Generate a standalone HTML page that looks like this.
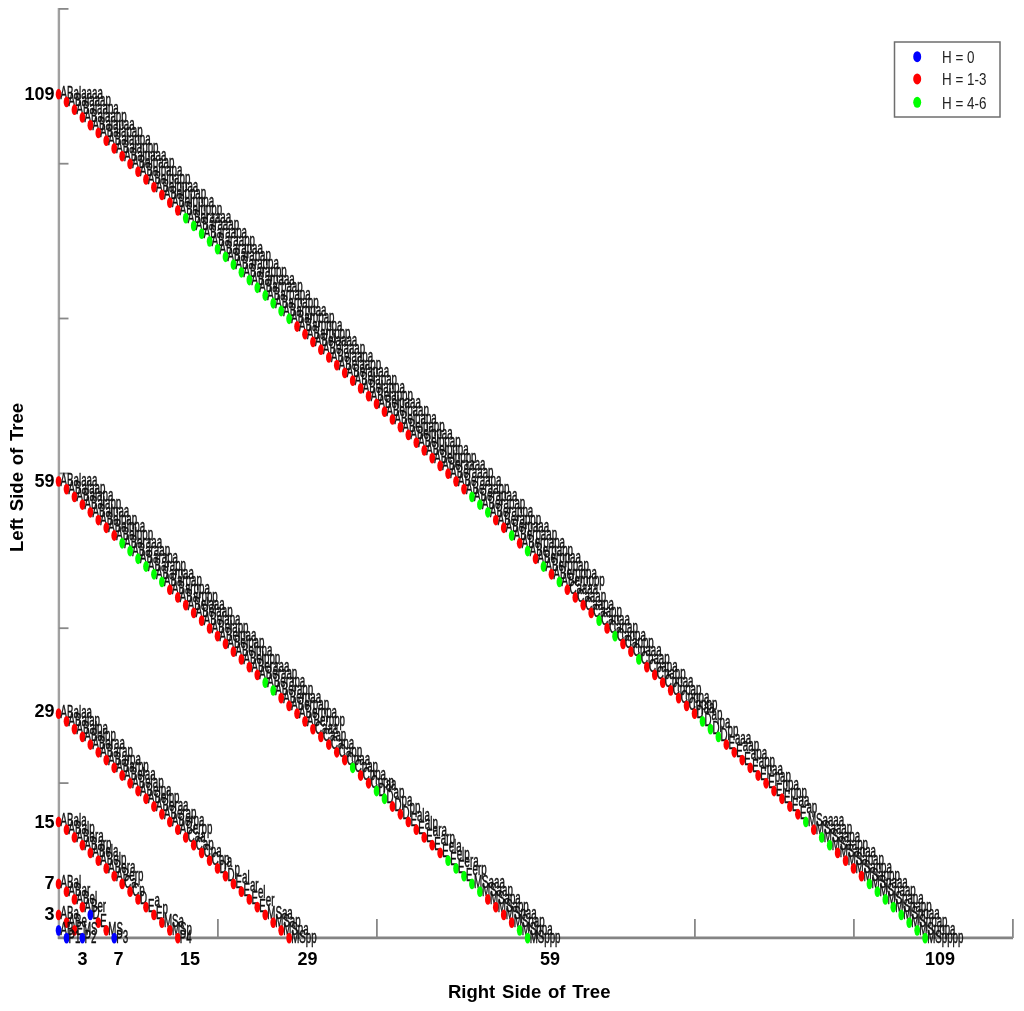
<!DOCTYPE html>
<html><head><meta charset="utf-8"><style>
html,body{margin:0;padding:0;background:#fff;width:1024px;height:1011px;overflow:hidden}
svg{display:block;filter:blur(0.5px)}
.h{stroke:#fff;stroke-width:0px;fill:#fff}
</style></head><body><svg width="1024" height="1011" viewBox="0 0 1024 1011"><line x1="58.9" y1="8" x2="58.9" y2="938.9" stroke="#a0a0a0" stroke-width="2.4"/><line x1="57.9" y1="937.9" x2="1013" y2="937.9" stroke="#848484" stroke-width="2.6"/><line x1="217.9" y1="937.9" x2="217.9" y2="919" stroke="#888" stroke-width="1.8"/><line x1="376.9" y1="937.9" x2="376.9" y2="919" stroke="#888" stroke-width="1.8"/><line x1="535.9" y1="937.9" x2="535.9" y2="919" stroke="#888" stroke-width="1.8"/><line x1="694.9" y1="937.9" x2="694.9" y2="919" stroke="#888" stroke-width="1.8"/><line x1="853.9" y1="937.9" x2="853.9" y2="919" stroke="#888" stroke-width="1.8"/><line x1="1012.9" y1="937.9" x2="1012.9" y2="919" stroke="#888" stroke-width="1.8"/><line x1="58.9" y1="783.1" x2="68.5" y2="783.1" stroke="#888" stroke-width="1.8"/><line x1="58.9" y1="628.2" x2="68.5" y2="628.2" stroke="#888" stroke-width="1.8"/><line x1="58.9" y1="473.4" x2="68.5" y2="473.4" stroke="#888" stroke-width="1.8"/><line x1="58.9" y1="318.5" x2="68.5" y2="318.5" stroke="#888" stroke-width="1.8"/><line x1="58.9" y1="163.7" x2="68.5" y2="163.7" stroke="#888" stroke-width="1.8"/><line x1="58.9" y1="8.9" x2="68.5" y2="8.9" stroke="#888" stroke-width="1.8"/><g font-family="Liberation Sans, sans-serif" font-size="17.5" fill="#111" stroke="#111" stroke-width="0.5"><ellipse cx="58.60" cy="94.22" rx="2.9" ry="5.4" fill="#f00" stroke="none"/><text transform="translate(60.60,98.72) scale(0.557,1)">ABalaaaa</text><ellipse cx="66.55" cy="101.96" rx="2.9" ry="5.4" fill="#f00" stroke="none"/><text transform="translate(68.55,106.46) scale(0.557,1)">ABalaaap</text><ellipse cx="74.50" cy="109.71" rx="2.9" ry="5.4" fill="#f00" stroke="none"/><text transform="translate(76.50,114.21) scale(0.557,1)">ABalaapa</text><ellipse cx="82.45" cy="117.45" rx="2.9" ry="5.4" fill="#f00" stroke="none"/><text transform="translate(84.45,121.95) scale(0.557,1)">ABalaapp</text><ellipse cx="90.40" cy="125.19" rx="2.9" ry="5.4" fill="#f00" stroke="none"/><text transform="translate(92.40,129.69) scale(0.557,1)">ABalapaa</text><ellipse cx="98.35" cy="132.93" rx="2.9" ry="5.4" fill="#f00" stroke="none"/><text transform="translate(100.35,137.43) scale(0.557,1)">ABalapap</text><ellipse cx="106.30" cy="140.67" rx="2.9" ry="5.4" fill="#f00" stroke="none"/><text transform="translate(108.30,145.17) scale(0.557,1)">ABalappa</text><ellipse cx="114.25" cy="148.42" rx="2.9" ry="5.4" fill="#f00" stroke="none"/><text transform="translate(116.25,152.92) scale(0.557,1)">ABalappp</text><ellipse cx="122.20" cy="156.16" rx="2.9" ry="5.4" fill="#f00" stroke="none"/><text transform="translate(124.20,160.66) scale(0.557,1)">ABalpaaa</text><ellipse cx="130.15" cy="163.90" rx="2.9" ry="5.4" fill="#f00" stroke="none"/><text transform="translate(132.15,168.40) scale(0.557,1)">ABalpaap</text><ellipse cx="138.10" cy="171.64" rx="2.9" ry="5.4" fill="#f00" stroke="none"/><text transform="translate(140.10,176.14) scale(0.557,1)">ABalpapa</text><ellipse cx="146.05" cy="179.38" rx="2.9" ry="5.4" fill="#f00" stroke="none"/><text transform="translate(148.05,183.88) scale(0.557,1)">ABalpapp</text><ellipse cx="154.00" cy="187.13" rx="2.9" ry="5.4" fill="#f00" stroke="none"/><text transform="translate(156.00,191.63) scale(0.557,1)">ABalppaa</text><ellipse cx="161.95" cy="194.87" rx="2.9" ry="5.4" fill="#f00" stroke="none"/><text transform="translate(163.95,199.37) scale(0.557,1)">ABalppap</text><ellipse cx="169.90" cy="202.61" rx="2.9" ry="5.4" fill="#f00" stroke="none"/><text transform="translate(171.90,207.11) scale(0.557,1)">ABalpppa</text><ellipse cx="177.85" cy="210.35" rx="2.9" ry="5.4" fill="#f00" stroke="none"/><text transform="translate(179.85,214.85) scale(0.557,1)">ABalpppp</text><ellipse cx="185.80" cy="218.09" rx="2.9" ry="5.4" fill="#0f0" stroke="none"/><text transform="translate(187.80,222.59) scale(0.557,1)">ABaraaaa</text><ellipse cx="193.75" cy="225.84" rx="2.9" ry="5.4" fill="#0f0" stroke="none"/><text transform="translate(195.75,230.34) scale(0.557,1)">ABaraaap</text><ellipse cx="201.70" cy="233.58" rx="2.9" ry="5.4" fill="#0f0" stroke="none"/><text transform="translate(203.70,238.08) scale(0.557,1)">ABaraapa</text><ellipse cx="209.65" cy="241.32" rx="2.9" ry="5.4" fill="#0f0" stroke="none"/><text transform="translate(211.65,245.82) scale(0.557,1)">ABaraapp</text><ellipse cx="217.60" cy="249.06" rx="2.9" ry="5.4" fill="#0f0" stroke="none"/><text transform="translate(219.60,253.56) scale(0.557,1)">ABarapaa</text><ellipse cx="225.55" cy="256.80" rx="2.9" ry="5.4" fill="#0f0" stroke="none"/><text transform="translate(227.55,261.30) scale(0.557,1)">ABarapap</text><ellipse cx="233.50" cy="264.55" rx="2.9" ry="5.4" fill="#0f0" stroke="none"/><text transform="translate(235.50,269.05) scale(0.557,1)">ABarappa</text><ellipse cx="241.45" cy="272.29" rx="2.9" ry="5.4" fill="#0f0" stroke="none"/><text transform="translate(243.45,276.79) scale(0.557,1)">ABarappp</text><ellipse cx="249.40" cy="280.03" rx="2.9" ry="5.4" fill="#0f0" stroke="none"/><text transform="translate(251.40,284.53) scale(0.557,1)">ABarpaaa</text><ellipse cx="257.35" cy="287.77" rx="2.9" ry="5.4" fill="#0f0" stroke="none"/><text transform="translate(259.35,292.27) scale(0.557,1)">ABarpaap</text><ellipse cx="265.30" cy="295.51" rx="2.9" ry="5.4" fill="#0f0" stroke="none"/><text transform="translate(267.30,300.01) scale(0.557,1)">ABarpapa</text><ellipse cx="273.25" cy="303.26" rx="2.9" ry="5.4" fill="#0f0" stroke="none"/><text transform="translate(275.25,307.76) scale(0.557,1)">ABarpapp</text><ellipse cx="281.20" cy="311.00" rx="2.9" ry="5.4" fill="#0f0" stroke="none"/><text transform="translate(283.20,315.50) scale(0.557,1)">ABarppaa</text><ellipse cx="289.15" cy="318.74" rx="2.9" ry="5.4" fill="#0f0" stroke="none"/><text transform="translate(291.15,323.24) scale(0.557,1)">ABarppap</text><ellipse cx="297.10" cy="326.48" rx="2.9" ry="5.4" fill="#f00" stroke="none"/><text transform="translate(299.10,330.98) scale(0.557,1)">ABarpppa</text><ellipse cx="305.05" cy="334.22" rx="2.9" ry="5.4" fill="#f00" stroke="none"/><text transform="translate(307.05,338.72) scale(0.557,1)">ABarpppp</text><ellipse cx="313.00" cy="341.97" rx="2.9" ry="5.4" fill="#f00" stroke="none"/><text transform="translate(315.00,346.47) scale(0.557,1)">ABelaaaa</text><ellipse cx="320.95" cy="349.71" rx="2.9" ry="5.4" fill="#f00" stroke="none"/><text transform="translate(322.95,354.21) scale(0.557,1)">ABelaaap</text><ellipse cx="328.90" cy="357.45" rx="2.9" ry="5.4" fill="#f00" stroke="none"/><text transform="translate(330.90,361.95) scale(0.557,1)">ABelaapa</text><ellipse cx="336.85" cy="365.19" rx="2.9" ry="5.4" fill="#f00" stroke="none"/><text transform="translate(338.85,369.69) scale(0.557,1)">ABelaapp</text><ellipse cx="344.80" cy="372.93" rx="2.9" ry="5.4" fill="#f00" stroke="none"/><text transform="translate(346.80,377.43) scale(0.557,1)">ABelapaa</text><ellipse cx="352.75" cy="380.68" rx="2.9" ry="5.4" fill="#f00" stroke="none"/><text transform="translate(354.75,385.18) scale(0.557,1)">ABelapap</text><ellipse cx="360.70" cy="388.42" rx="2.9" ry="5.4" fill="#f00" stroke="none"/><text transform="translate(362.70,392.92) scale(0.557,1)">ABelappa</text><ellipse cx="368.65" cy="396.16" rx="2.9" ry="5.4" fill="#f00" stroke="none"/><text transform="translate(370.65,400.66) scale(0.557,1)">ABelappp</text><ellipse cx="376.60" cy="403.90" rx="2.9" ry="5.4" fill="#f00" stroke="none"/><text transform="translate(378.60,408.40) scale(0.557,1)">ABelpaaa</text><ellipse cx="384.55" cy="411.64" rx="2.9" ry="5.4" fill="#f00" stroke="none"/><text transform="translate(386.55,416.14) scale(0.557,1)">ABelpaap</text><ellipse cx="392.50" cy="419.39" rx="2.9" ry="5.4" fill="#f00" stroke="none"/><text transform="translate(394.50,423.89) scale(0.557,1)">ABelpapa</text><ellipse cx="400.45" cy="427.13" rx="2.9" ry="5.4" fill="#f00" stroke="none"/><text transform="translate(402.45,431.63) scale(0.557,1)">ABelpapp</text><ellipse cx="408.40" cy="434.87" rx="2.9" ry="5.4" fill="#f00" stroke="none"/><text transform="translate(410.40,439.37) scale(0.557,1)">ABelppaa</text><ellipse cx="416.35" cy="442.61" rx="2.9" ry="5.4" fill="#f00" stroke="none"/><text transform="translate(418.35,447.11) scale(0.557,1)">ABelppap</text><ellipse cx="424.30" cy="450.35" rx="2.9" ry="5.4" fill="#f00" stroke="none"/><text transform="translate(426.30,454.85) scale(0.557,1)">ABelpppa</text><ellipse cx="432.25" cy="458.10" rx="2.9" ry="5.4" fill="#f00" stroke="none"/><text transform="translate(434.25,462.60) scale(0.557,1)">ABelpppp</text><ellipse cx="440.20" cy="465.84" rx="2.9" ry="5.4" fill="#f00" stroke="none"/><text transform="translate(442.20,470.34) scale(0.557,1)">ABeraaaa</text><ellipse cx="448.15" cy="473.58" rx="2.9" ry="5.4" fill="#f00" stroke="none"/><text transform="translate(450.15,478.08) scale(0.557,1)">ABeraaap</text><ellipse cx="456.10" cy="481.32" rx="2.9" ry="5.4" fill="#f00" stroke="none"/><text transform="translate(458.10,485.82) scale(0.557,1)">ABeraapa</text><ellipse cx="464.05" cy="489.06" rx="2.9" ry="5.4" fill="#f00" stroke="none"/><text transform="translate(466.05,493.56) scale(0.557,1)">ABeraapp</text><ellipse cx="472.00" cy="496.81" rx="2.9" ry="5.4" fill="#0f0" stroke="none"/><text transform="translate(474.00,501.31) scale(0.557,1)">ABerapaa</text><ellipse cx="479.95" cy="504.55" rx="2.9" ry="5.4" fill="#0f0" stroke="none"/><text transform="translate(481.95,509.05) scale(0.557,1)">ABerapap</text><ellipse cx="487.90" cy="512.29" rx="2.9" ry="5.4" fill="#0f0" stroke="none"/><text transform="translate(489.90,516.79) scale(0.557,1)">ABerappa</text><ellipse cx="495.85" cy="520.03" rx="2.9" ry="5.4" fill="#f00" stroke="none"/><text transform="translate(497.85,524.53) scale(0.557,1)">ABerappp</text><ellipse cx="503.80" cy="527.77" rx="2.9" ry="5.4" fill="#f00" stroke="none"/><text transform="translate(505.80,532.27) scale(0.557,1)">ABerpaaa</text><ellipse cx="511.75" cy="535.52" rx="2.9" ry="5.4" fill="#0f0" stroke="none"/><text transform="translate(513.75,540.02) scale(0.557,1)">ABerpaap</text><ellipse cx="519.70" cy="543.26" rx="2.9" ry="5.4" fill="#f00" stroke="none"/><text transform="translate(521.70,547.76) scale(0.557,1)">ABerpapa</text><ellipse cx="527.65" cy="551.00" rx="2.9" ry="5.4" fill="#0f0" stroke="none"/><text transform="translate(529.65,555.50) scale(0.557,1)">ABerpapp</text><ellipse cx="535.60" cy="558.74" rx="2.9" ry="5.4" fill="#f00" stroke="none"/><text transform="translate(537.60,563.24) scale(0.557,1)">ABerppaa</text><ellipse cx="543.55" cy="566.48" rx="2.9" ry="5.4" fill="#0f0" stroke="none"/><text transform="translate(545.55,570.98) scale(0.557,1)">ABerppap</text><ellipse cx="551.50" cy="574.23" rx="2.9" ry="5.4" fill="#f00" stroke="none"/><text transform="translate(553.50,578.73) scale(0.557,1)">ABerpppa</text><ellipse cx="559.45" cy="581.97" rx="2.9" ry="5.4" fill="#0f0" stroke="none"/><text transform="translate(561.45,586.47) scale(0.557,1)">ABerpppp</text><ellipse cx="567.40" cy="589.71" rx="2.9" ry="5.4" fill="#f00" stroke="none"/><text transform="translate(569.40,594.21) scale(0.557,1)">Caaaa</text><ellipse cx="575.35" cy="597.45" rx="2.9" ry="5.4" fill="#f00" stroke="none"/><text transform="translate(577.35,601.95) scale(0.557,1)">Caaap</text><ellipse cx="583.30" cy="605.19" rx="2.9" ry="5.4" fill="#f00" stroke="none"/><text transform="translate(585.30,609.69) scale(0.557,1)">Caapa</text><ellipse cx="591.25" cy="612.94" rx="2.9" ry="5.4" fill="#f00" stroke="none"/><text transform="translate(593.25,617.44) scale(0.557,1)">Caapp</text><ellipse cx="599.20" cy="620.68" rx="2.9" ry="5.4" fill="#0f0" stroke="none"/><text transform="translate(601.20,625.18) scale(0.557,1)">Capaa</text><ellipse cx="607.15" cy="628.42" rx="2.9" ry="5.4" fill="#f00" stroke="none"/><text transform="translate(609.15,632.92) scale(0.557,1)">Capap</text><ellipse cx="615.10" cy="636.16" rx="2.9" ry="5.4" fill="#0f0" stroke="none"/><text transform="translate(617.10,640.66) scale(0.557,1)">Cappa</text><ellipse cx="623.05" cy="643.90" rx="2.9" ry="5.4" fill="#f00" stroke="none"/><text transform="translate(625.05,648.40) scale(0.557,1)">Cappp</text><ellipse cx="631.00" cy="651.65" rx="2.9" ry="5.4" fill="#f00" stroke="none"/><text transform="translate(633.00,656.15) scale(0.557,1)">Cpaaa</text><ellipse cx="638.95" cy="659.39" rx="2.9" ry="5.4" fill="#0f0" stroke="none"/><text transform="translate(640.95,663.89) scale(0.557,1)">Cpaap</text><ellipse cx="646.90" cy="667.13" rx="2.9" ry="5.4" fill="#f00" stroke="none"/><text transform="translate(648.90,671.63) scale(0.557,1)">Cpapa</text><ellipse cx="654.85" cy="674.87" rx="2.9" ry="5.4" fill="#f00" stroke="none"/><text transform="translate(656.85,679.37) scale(0.557,1)">Cpapp</text><ellipse cx="662.80" cy="682.61" rx="2.9" ry="5.4" fill="#f00" stroke="none"/><text transform="translate(664.80,687.11) scale(0.557,1)">Cppaa</text><ellipse cx="670.75" cy="690.36" rx="2.9" ry="5.4" fill="#f00" stroke="none"/><text transform="translate(672.75,694.86) scale(0.557,1)">Cppap</text><ellipse cx="678.70" cy="698.10" rx="2.9" ry="5.4" fill="#f00" stroke="none"/><text transform="translate(680.70,702.60) scale(0.557,1)">Cpppa</text><ellipse cx="686.65" cy="705.84" rx="2.9" ry="5.4" fill="#f00" stroke="none"/><text transform="translate(688.65,710.34) scale(0.557,1)">Cpppp</text><ellipse cx="694.60" cy="713.58" rx="2.9" ry="5.4" fill="#f00" stroke="none"/><text transform="translate(696.60,718.08) scale(0.557,1)">D<tspan dy="-5.5">aa</tspan></text><ellipse cx="702.55" cy="721.32" rx="2.9" ry="5.4" fill="#0f0" stroke="none"/><text transform="translate(704.55,725.82) scale(0.557,1)">D<tspan dy="-5.5">ap</tspan></text><ellipse cx="710.50" cy="729.07" rx="2.9" ry="5.4" fill="#0f0" stroke="none"/><text transform="translate(712.50,733.57) scale(0.557,1)">D<tspan dy="-5.5">pa</tspan></text><ellipse cx="718.45" cy="736.81" rx="2.9" ry="5.4" fill="#0f0" stroke="none"/><text transform="translate(720.45,741.31) scale(0.557,1)">D<tspan dy="-5.5">pp</tspan></text><ellipse cx="726.40" cy="744.55" rx="2.9" ry="5.4" fill="#f00" stroke="none"/><text transform="translate(728.40,749.05) scale(0.557,1)">E<tspan dy="-5.5">aaa</tspan></text><ellipse cx="734.35" cy="752.29" rx="2.9" ry="5.4" fill="#f00" stroke="none"/><text transform="translate(736.35,756.79) scale(0.557,1)">E<tspan dy="-5.5">aap</tspan></text><ellipse cx="742.30" cy="760.03" rx="2.9" ry="5.4" fill="#f00" stroke="none"/><text transform="translate(744.30,764.53) scale(0.557,1)">E<tspan dy="-5.5">apa</tspan></text><ellipse cx="750.25" cy="767.78" rx="2.9" ry="5.4" fill="#f00" stroke="none"/><text transform="translate(752.25,772.28) scale(0.557,1)">E<tspan dy="-5.5">app</tspan></text><ellipse cx="758.20" cy="775.52" rx="2.9" ry="5.4" fill="#f00" stroke="none"/><text transform="translate(760.20,780.02) scale(0.557,1)">E<tspan dy="-5.5">paa</tspan></text><ellipse cx="766.15" cy="783.26" rx="2.9" ry="5.4" fill="#f00" stroke="none"/><text transform="translate(768.15,787.76) scale(0.557,1)">E<tspan dy="-5.5">pap</tspan></text><ellipse cx="774.10" cy="791.00" rx="2.9" ry="5.4" fill="#f00" stroke="none"/><text transform="translate(776.10,795.50) scale(0.557,1)">E<tspan dy="-5.5">ppa</tspan></text><ellipse cx="782.05" cy="798.74" rx="2.9" ry="5.4" fill="#f00" stroke="none"/><text transform="translate(784.05,803.24) scale(0.557,1)">E<tspan dy="-5.5">ppp</tspan></text><ellipse cx="790.00" cy="806.49" rx="2.9" ry="5.4" fill="#f00" stroke="none"/><text transform="translate(792.00,810.99) scale(0.557,1)">E<tspan dy="-5.5">aa</tspan></text><ellipse cx="797.95" cy="814.23" rx="2.9" ry="5.4" fill="#f00" stroke="none"/><text transform="translate(799.95,818.73) scale(0.557,1)">E<tspan dy="-5.5">ap</tspan></text><ellipse cx="805.90" cy="821.97" rx="2.9" ry="5.4" fill="#0f0" stroke="none"/><text transform="translate(807.90,826.47) scale(0.557,1)">MSaaaa</text><ellipse cx="813.85" cy="829.71" rx="2.9" ry="5.4" fill="#f00" stroke="none"/><text transform="translate(815.85,834.21) scale(0.557,1)">MSaaap</text><ellipse cx="821.80" cy="837.45" rx="2.9" ry="5.4" fill="#0f0" stroke="none"/><text transform="translate(823.80,841.95) scale(0.557,1)">MSaapa</text><ellipse cx="829.75" cy="845.20" rx="2.9" ry="5.4" fill="#0f0" stroke="none"/><text transform="translate(831.75,849.70) scale(0.557,1)">MSaapp</text><ellipse cx="837.70" cy="852.94" rx="2.9" ry="5.4" fill="#f00" stroke="none"/><text transform="translate(839.70,857.44) scale(0.557,1)">MSapaa</text><ellipse cx="845.65" cy="860.68" rx="2.9" ry="5.4" fill="#f00" stroke="none"/><text transform="translate(847.65,865.18) scale(0.557,1)">MSapap</text><ellipse cx="853.60" cy="868.42" rx="2.9" ry="5.4" fill="#f00" stroke="none"/><text transform="translate(855.60,872.92) scale(0.557,1)">MSappa</text><ellipse cx="861.55" cy="876.16" rx="2.9" ry="5.4" fill="#f00" stroke="none"/><text transform="translate(863.55,880.66) scale(0.557,1)">MSappp</text><ellipse cx="869.50" cy="883.91" rx="2.9" ry="5.4" fill="#0f0" stroke="none"/><text transform="translate(871.50,888.41) scale(0.557,1)">MSpaaa</text><ellipse cx="877.45" cy="891.65" rx="2.9" ry="5.4" fill="#0f0" stroke="none"/><text transform="translate(879.45,896.15) scale(0.557,1)">MSpaap</text><ellipse cx="885.40" cy="899.39" rx="2.9" ry="5.4" fill="#0f0" stroke="none"/><text transform="translate(887.40,903.89) scale(0.557,1)">MSpapa</text><ellipse cx="893.35" cy="907.13" rx="2.9" ry="5.4" fill="#0f0" stroke="none"/><text transform="translate(895.35,911.63) scale(0.557,1)">MSpapp</text><ellipse cx="901.30" cy="914.87" rx="2.9" ry="5.4" fill="#0f0" stroke="none"/><text transform="translate(903.30,919.37) scale(0.557,1)">MSppaa</text><ellipse cx="909.25" cy="922.62" rx="2.9" ry="5.4" fill="#0f0" stroke="none"/><text transform="translate(911.25,927.12) scale(0.557,1)">MSppap</text><ellipse cx="917.20" cy="930.36" rx="2.9" ry="5.4" fill="#0f0" stroke="none"/><text transform="translate(919.20,934.86) scale(0.557,1)">MSpppa</text><ellipse cx="925.15" cy="938.10" rx="2.9" ry="5.4" fill="#0f0" stroke="none"/><text transform="translate(927.15,942.60) scale(0.557,1)">MSpppp</text><ellipse cx="58.60" cy="481.32" rx="2.9" ry="5.4" fill="#f00" stroke="none"/><text transform="translate(60.60,485.82) scale(0.557,1)">ABalaaa</text><ellipse cx="66.55" cy="489.06" rx="2.9" ry="5.4" fill="#f00" stroke="none"/><text transform="translate(68.55,493.56) scale(0.557,1)">ABalaap</text><ellipse cx="74.50" cy="496.81" rx="2.9" ry="5.4" fill="#f00" stroke="none"/><text transform="translate(76.50,501.31) scale(0.557,1)">ABalapa</text><ellipse cx="82.45" cy="504.55" rx="2.9" ry="5.4" fill="#f00" stroke="none"/><text transform="translate(84.45,509.05) scale(0.557,1)">ABalapp</text><ellipse cx="90.40" cy="512.29" rx="2.9" ry="5.4" fill="#f00" stroke="none"/><text transform="translate(92.40,516.79) scale(0.557,1)">ABalpaa</text><ellipse cx="98.35" cy="520.03" rx="2.9" ry="5.4" fill="#f00" stroke="none"/><text transform="translate(100.35,524.53) scale(0.557,1)">ABalpap</text><ellipse cx="106.30" cy="527.77" rx="2.9" ry="5.4" fill="#f00" stroke="none"/><text transform="translate(108.30,532.27) scale(0.557,1)">ABalppa</text><ellipse cx="114.25" cy="535.52" rx="2.9" ry="5.4" fill="#f00" stroke="none"/><text transform="translate(116.25,540.02) scale(0.557,1)">ABalppp</text><ellipse cx="122.20" cy="543.26" rx="2.9" ry="5.4" fill="#0f0" stroke="none"/><text transform="translate(124.20,547.76) scale(0.557,1)">ABaraaa</text><ellipse cx="130.15" cy="551.00" rx="2.9" ry="5.4" fill="#0f0" stroke="none"/><text transform="translate(132.15,555.50) scale(0.557,1)">ABaraap</text><ellipse cx="138.10" cy="558.74" rx="2.9" ry="5.4" fill="#0f0" stroke="none"/><text transform="translate(140.10,563.24) scale(0.557,1)">ABarapa</text><ellipse cx="146.05" cy="566.48" rx="2.9" ry="5.4" fill="#0f0" stroke="none"/><text transform="translate(148.05,570.98) scale(0.557,1)">ABarapp</text><ellipse cx="154.00" cy="574.23" rx="2.9" ry="5.4" fill="#0f0" stroke="none"/><text transform="translate(156.00,578.73) scale(0.557,1)">ABarpaa</text><ellipse cx="161.95" cy="581.97" rx="2.9" ry="5.4" fill="#0f0" stroke="none"/><text transform="translate(163.95,586.47) scale(0.557,1)">ABarpap</text><ellipse cx="169.90" cy="589.71" rx="2.9" ry="5.4" fill="#f00" stroke="none"/><text transform="translate(171.90,594.21) scale(0.557,1)">ABarppa</text><ellipse cx="177.85" cy="597.45" rx="2.9" ry="5.4" fill="#f00" stroke="none"/><text transform="translate(179.85,601.95) scale(0.557,1)">ABarppp</text><ellipse cx="185.80" cy="605.19" rx="2.9" ry="5.4" fill="#f00" stroke="none"/><text transform="translate(187.80,609.69) scale(0.557,1)">ABelaaa</text><ellipse cx="193.75" cy="612.94" rx="2.9" ry="5.4" fill="#f00" stroke="none"/><text transform="translate(195.75,617.44) scale(0.557,1)">ABelaap</text><ellipse cx="201.70" cy="620.68" rx="2.9" ry="5.4" fill="#f00" stroke="none"/><text transform="translate(203.70,625.18) scale(0.557,1)">ABelapa</text><ellipse cx="209.65" cy="628.42" rx="2.9" ry="5.4" fill="#f00" stroke="none"/><text transform="translate(211.65,632.92) scale(0.557,1)">ABelapp</text><ellipse cx="217.60" cy="636.16" rx="2.9" ry="5.4" fill="#f00" stroke="none"/><text transform="translate(219.60,640.66) scale(0.557,1)">ABelpaa</text><ellipse cx="225.55" cy="643.90" rx="2.9" ry="5.4" fill="#f00" stroke="none"/><text transform="translate(227.55,648.40) scale(0.557,1)">ABelpap</text><ellipse cx="233.50" cy="651.65" rx="2.9" ry="5.4" fill="#f00" stroke="none"/><text transform="translate(235.50,656.15) scale(0.557,1)">ABelppa</text><ellipse cx="241.45" cy="659.39" rx="2.9" ry="5.4" fill="#f00" stroke="none"/><text transform="translate(243.45,663.89) scale(0.557,1)">ABelppp</text><ellipse cx="249.40" cy="667.13" rx="2.9" ry="5.4" fill="#f00" stroke="none"/><text transform="translate(251.40,671.63) scale(0.557,1)">ABeraaa</text><ellipse cx="257.35" cy="674.87" rx="2.9" ry="5.4" fill="#f00" stroke="none"/><text transform="translate(259.35,679.37) scale(0.557,1)">ABeraap</text><ellipse cx="265.30" cy="682.61" rx="2.9" ry="5.4" fill="#0f0" stroke="none"/><text transform="translate(267.30,687.11) scale(0.557,1)">ABerapa</text><ellipse cx="273.25" cy="690.36" rx="2.9" ry="5.4" fill="#0f0" stroke="none"/><text transform="translate(275.25,694.86) scale(0.557,1)">ABerapp</text><ellipse cx="281.20" cy="698.10" rx="2.9" ry="5.4" fill="#f00" stroke="none"/><text transform="translate(283.20,702.60) scale(0.557,1)">ABerpaa</text><ellipse cx="289.15" cy="705.84" rx="2.9" ry="5.4" fill="#f00" stroke="none"/><text transform="translate(291.15,710.34) scale(0.557,1)">ABerpap</text><ellipse cx="297.10" cy="713.58" rx="2.9" ry="5.4" fill="#f00" stroke="none"/><text transform="translate(299.10,718.08) scale(0.557,1)">ABerppa</text><ellipse cx="305.05" cy="721.32" rx="2.9" ry="5.4" fill="#f00" stroke="none"/><text transform="translate(307.05,725.82) scale(0.557,1)">ABerppp</text><ellipse cx="313.00" cy="729.07" rx="2.9" ry="5.4" fill="#f00" stroke="none"/><text transform="translate(315.00,733.57) scale(0.557,1)">Caaa</text><ellipse cx="320.95" cy="736.81" rx="2.9" ry="5.4" fill="#f00" stroke="none"/><text transform="translate(322.95,741.31) scale(0.557,1)">Caap</text><ellipse cx="328.90" cy="744.55" rx="2.9" ry="5.4" fill="#f00" stroke="none"/><text transform="translate(330.90,749.05) scale(0.557,1)">Capa</text><ellipse cx="336.85" cy="752.29" rx="2.9" ry="5.4" fill="#f00" stroke="none"/><text transform="translate(338.85,756.79) scale(0.557,1)">Capp</text><ellipse cx="344.80" cy="760.03" rx="2.9" ry="5.4" fill="#f00" stroke="none"/><text transform="translate(346.80,764.53) scale(0.557,1)">Cpaa</text><ellipse cx="352.75" cy="767.78" rx="2.9" ry="5.4" fill="#0f0" stroke="none"/><text transform="translate(354.75,772.28) scale(0.557,1)">Cpap</text><ellipse cx="360.70" cy="775.52" rx="2.9" ry="5.4" fill="#f00" stroke="none"/><text transform="translate(362.70,780.02) scale(0.557,1)">Cppa</text><ellipse cx="368.65" cy="783.26" rx="2.9" ry="5.4" fill="#f00" stroke="none"/><text transform="translate(370.65,787.76) scale(0.557,1)">Cppp</text><ellipse cx="376.60" cy="791.00" rx="2.9" ry="5.4" fill="#0f0" stroke="none"/><text transform="translate(378.60,795.50) scale(0.557,1)">D<tspan dy="-5.5">aa</tspan></text><ellipse cx="384.55" cy="798.74" rx="2.9" ry="5.4" fill="#0f0" stroke="none"/><text transform="translate(386.55,803.24) scale(0.557,1)">D<tspan dy="-5.5">ap</tspan></text><ellipse cx="392.50" cy="806.49" rx="2.9" ry="5.4" fill="#f00" stroke="none"/><text transform="translate(394.50,810.99) scale(0.557,1)">D<tspan dy="-5.5">pa</tspan></text><ellipse cx="400.45" cy="814.23" rx="2.9" ry="5.4" fill="#f00" stroke="none"/><text transform="translate(402.45,818.73) scale(0.557,1)">D<tspan dy="-5.5">pp</tspan></text><ellipse cx="408.40" cy="821.97" rx="2.9" ry="5.4" fill="#f00" stroke="none"/><text transform="translate(410.40,826.47) scale(0.557,1)">E<tspan dy="-5.5">ala</tspan></text><ellipse cx="416.35" cy="829.71" rx="2.9" ry="5.4" fill="#f00" stroke="none"/><text transform="translate(418.35,834.21) scale(0.557,1)">E<tspan dy="-5.5">alp</tspan></text><ellipse cx="424.30" cy="837.45" rx="2.9" ry="5.4" fill="#f00" stroke="none"/><text transform="translate(426.30,841.95) scale(0.557,1)">E<tspan dy="-5.5">ara</tspan></text><ellipse cx="432.25" cy="845.20" rx="2.9" ry="5.4" fill="#f00" stroke="none"/><text transform="translate(434.25,849.70) scale(0.557,1)">E<tspan dy="-5.5">arp</tspan></text><ellipse cx="440.20" cy="852.94" rx="2.9" ry="5.4" fill="#f00" stroke="none"/><text transform="translate(442.20,857.44) scale(0.557,1)">E<tspan dy="-5.5">ela</tspan></text><ellipse cx="448.15" cy="860.68" rx="2.9" ry="5.4" fill="#0f0" stroke="none"/><text transform="translate(450.15,865.18) scale(0.557,1)">E<tspan dy="-5.5">elp</tspan></text><ellipse cx="456.10" cy="868.42" rx="2.9" ry="5.4" fill="#0f0" stroke="none"/><text transform="translate(458.10,872.92) scale(0.557,1)">E<tspan dy="-5.5">era</tspan></text><ellipse cx="464.05" cy="876.16" rx="2.9" ry="5.4" fill="#0f0" stroke="none"/><text transform="translate(466.05,880.66) scale(0.557,1)">E<tspan dy="-5.5">erp</tspan></text><ellipse cx="472.00" cy="883.91" rx="2.9" ry="5.4" fill="#0f0" stroke="none"/><text transform="translate(474.00,888.41) scale(0.557,1)">MSaaa</text><ellipse cx="479.95" cy="891.65" rx="2.9" ry="5.4" fill="#0f0" stroke="none"/><text transform="translate(481.95,896.15) scale(0.557,1)">MSaap</text><ellipse cx="487.90" cy="899.39" rx="2.9" ry="5.4" fill="#f00" stroke="none"/><text transform="translate(489.90,903.89) scale(0.557,1)">MSapa</text><ellipse cx="495.85" cy="907.13" rx="2.9" ry="5.4" fill="#f00" stroke="none"/><text transform="translate(497.85,911.63) scale(0.557,1)">MSapp</text><ellipse cx="503.80" cy="914.87" rx="2.9" ry="5.4" fill="#f00" stroke="none"/><text transform="translate(505.80,919.37) scale(0.557,1)">MSpaa</text><ellipse cx="511.75" cy="922.62" rx="2.9" ry="5.4" fill="#f00" stroke="none"/><text transform="translate(513.75,927.12) scale(0.557,1)">MSpap</text><ellipse cx="519.70" cy="930.36" rx="2.9" ry="5.4" fill="#0f0" stroke="none"/><text transform="translate(521.70,934.86) scale(0.557,1)">MSppa</text><ellipse cx="527.65" cy="938.10" rx="2.9" ry="5.4" fill="#0f0" stroke="none"/><text transform="translate(529.65,942.60) scale(0.557,1)">MSppp</text><ellipse cx="58.60" cy="713.58" rx="2.9" ry="5.4" fill="#f00" stroke="none"/><text transform="translate(60.60,718.08) scale(0.557,1)">ABalaa</text><ellipse cx="66.55" cy="721.32" rx="2.9" ry="5.4" fill="#f00" stroke="none"/><text transform="translate(68.55,725.82) scale(0.557,1)">ABalap</text><ellipse cx="74.50" cy="729.07" rx="2.9" ry="5.4" fill="#f00" stroke="none"/><text transform="translate(76.50,733.57) scale(0.557,1)">ABalpa</text><ellipse cx="82.45" cy="736.81" rx="2.9" ry="5.4" fill="#f00" stroke="none"/><text transform="translate(84.45,741.31) scale(0.557,1)">ABalpp</text><ellipse cx="90.40" cy="744.55" rx="2.9" ry="5.4" fill="#f00" stroke="none"/><text transform="translate(92.40,749.05) scale(0.557,1)">ABaraa</text><ellipse cx="98.35" cy="752.29" rx="2.9" ry="5.4" fill="#f00" stroke="none"/><text transform="translate(100.35,756.79) scale(0.557,1)">ABarap</text><ellipse cx="106.30" cy="760.03" rx="2.9" ry="5.4" fill="#f00" stroke="none"/><text transform="translate(108.30,764.53) scale(0.557,1)">ABarpa</text><ellipse cx="114.25" cy="767.78" rx="2.9" ry="5.4" fill="#f00" stroke="none"/><text transform="translate(116.25,772.28) scale(0.557,1)">ABarpp</text><ellipse cx="122.20" cy="775.52" rx="2.9" ry="5.4" fill="#f00" stroke="none"/><text transform="translate(124.20,780.02) scale(0.557,1)">ABelaa</text><ellipse cx="130.15" cy="783.26" rx="2.9" ry="5.4" fill="#f00" stroke="none"/><text transform="translate(132.15,787.76) scale(0.557,1)">ABelap</text><ellipse cx="138.10" cy="791.00" rx="2.9" ry="5.4" fill="#f00" stroke="none"/><text transform="translate(140.10,795.50) scale(0.557,1)">ABelpa</text><ellipse cx="146.05" cy="798.74" rx="2.9" ry="5.4" fill="#f00" stroke="none"/><text transform="translate(148.05,803.24) scale(0.557,1)">ABelpp</text><ellipse cx="154.00" cy="806.49" rx="2.9" ry="5.4" fill="#f00" stroke="none"/><text transform="translate(156.00,810.99) scale(0.557,1)">ABeraa</text><ellipse cx="161.95" cy="814.23" rx="2.9" ry="5.4" fill="#f00" stroke="none"/><text transform="translate(163.95,818.73) scale(0.557,1)">ABerap</text><ellipse cx="169.90" cy="821.97" rx="2.9" ry="5.4" fill="#f00" stroke="none"/><text transform="translate(171.90,826.47) scale(0.557,1)">ABerpa</text><ellipse cx="177.85" cy="829.71" rx="2.9" ry="5.4" fill="#f00" stroke="none"/><text transform="translate(179.85,834.21) scale(0.557,1)">ABerpp</text><ellipse cx="185.80" cy="837.45" rx="2.9" ry="5.4" fill="#f00" stroke="none"/><text transform="translate(187.80,841.95) scale(0.557,1)">Caa</text><ellipse cx="193.75" cy="845.20" rx="2.9" ry="5.4" fill="#f00" stroke="none"/><text transform="translate(195.75,849.70) scale(0.557,1)">Cap</text><ellipse cx="201.70" cy="852.94" rx="2.9" ry="5.4" fill="#f00" stroke="none"/><text transform="translate(203.70,857.44) scale(0.557,1)">Cpa</text><ellipse cx="209.65" cy="860.68" rx="2.9" ry="5.4" fill="#f00" stroke="none"/><text transform="translate(211.65,865.18) scale(0.557,1)">Cpp</text><ellipse cx="217.60" cy="868.42" rx="2.9" ry="5.4" fill="#f00" stroke="none"/><text transform="translate(219.60,872.92) scale(0.557,1)">D<tspan dy="-5.5">a</tspan></text><ellipse cx="225.55" cy="876.16" rx="2.9" ry="5.4" fill="#f00" stroke="none"/><text transform="translate(227.55,880.66) scale(0.557,1)">D<tspan dy="-5.5">p</tspan></text><ellipse cx="233.50" cy="883.91" rx="2.9" ry="5.4" fill="#f00" stroke="none"/><text transform="translate(235.50,888.41) scale(0.557,1)">E<tspan dy="-5.5">al</tspan></text><ellipse cx="241.45" cy="891.65" rx="2.9" ry="5.4" fill="#f00" stroke="none"/><text transform="translate(243.45,896.15) scale(0.557,1)">E<tspan dy="-5.5">ar</tspan></text><ellipse cx="249.40" cy="899.39" rx="2.9" ry="5.4" fill="#f00" stroke="none"/><text transform="translate(251.40,903.89) scale(0.557,1)">E<tspan dy="-5.5">el</tspan></text><ellipse cx="257.35" cy="907.13" rx="2.9" ry="5.4" fill="#f00" stroke="none"/><text transform="translate(259.35,911.63) scale(0.557,1)">E<tspan dy="-5.5">er</tspan></text><ellipse cx="265.30" cy="914.87" rx="2.9" ry="5.4" fill="#f00" stroke="none"/><text transform="translate(267.30,919.37) scale(0.557,1)">MSaa</text><ellipse cx="273.25" cy="922.62" rx="2.9" ry="5.4" fill="#f00" stroke="none"/><text transform="translate(275.25,927.12) scale(0.557,1)">MSap</text><ellipse cx="281.20" cy="930.36" rx="2.9" ry="5.4" fill="#f00" stroke="none"/><text transform="translate(283.20,934.86) scale(0.557,1)">MSpa</text><ellipse cx="289.15" cy="938.10" rx="2.9" ry="5.4" fill="#f00" stroke="none"/><text transform="translate(291.15,942.60) scale(0.557,1)">MSpp</text><ellipse cx="58.60" cy="821.97" rx="2.9" ry="5.4" fill="#f00" stroke="none"/><text transform="translate(60.60,826.47) scale(0.557,1)">ABala</text><ellipse cx="66.55" cy="829.71" rx="2.9" ry="5.4" fill="#f00" stroke="none"/><text transform="translate(68.55,834.21) scale(0.557,1)">ABalp</text><ellipse cx="74.50" cy="837.45" rx="2.9" ry="5.4" fill="#f00" stroke="none"/><text transform="translate(76.50,841.95) scale(0.557,1)">ABara</text><ellipse cx="82.45" cy="845.20" rx="2.9" ry="5.4" fill="#f00" stroke="none"/><text transform="translate(84.45,849.70) scale(0.557,1)">ABarp</text><ellipse cx="90.40" cy="852.94" rx="2.9" ry="5.4" fill="#f00" stroke="none"/><text transform="translate(92.40,857.44) scale(0.557,1)">ABela</text><ellipse cx="98.35" cy="860.68" rx="2.9" ry="5.4" fill="#f00" stroke="none"/><text transform="translate(100.35,865.18) scale(0.557,1)">ABelp</text><ellipse cx="106.30" cy="868.42" rx="2.9" ry="5.4" fill="#f00" stroke="none"/><text transform="translate(108.30,872.92) scale(0.557,1)">ABera</text><ellipse cx="114.25" cy="876.16" rx="2.9" ry="5.4" fill="#f00" stroke="none"/><text transform="translate(116.25,880.66) scale(0.557,1)">ABerp</text><ellipse cx="122.20" cy="883.91" rx="2.9" ry="5.4" fill="#f00" stroke="none"/><text transform="translate(124.20,888.41) scale(0.557,1)">Ca</text><ellipse cx="130.15" cy="891.65" rx="2.9" ry="5.4" fill="#f00" stroke="none"/><text transform="translate(132.15,896.15) scale(0.557,1)">Cp</text><ellipse cx="138.10" cy="899.39" rx="2.9" ry="5.4" fill="#f00" stroke="none"/><text transform="translate(140.10,903.89) scale(0.557,1)">D</text><ellipse cx="146.05" cy="907.13" rx="2.9" ry="5.4" fill="#f00" stroke="none"/><text transform="translate(148.05,911.63) scale(0.557,1)">E<tspan dy="-5.5">a</tspan></text><ellipse cx="154.00" cy="914.87" rx="2.9" ry="5.4" fill="#f00" stroke="none"/><text transform="translate(156.00,919.37) scale(0.557,1)">E<tspan dy="-5.5">p</tspan></text><ellipse cx="161.95" cy="922.62" rx="2.9" ry="5.4" fill="#f00" stroke="none"/><text transform="translate(163.95,927.12) scale(0.557,1)">MSa</text><ellipse cx="169.90" cy="930.36" rx="2.9" ry="5.4" fill="#f00" stroke="none"/><text transform="translate(171.90,934.86) scale(0.557,1)">MSp</text><ellipse cx="177.85" cy="938.10" rx="2.9" ry="5.4" fill="#f00" stroke="none"/><text transform="translate(179.85,942.60) scale(0.557,1)">P4</text><ellipse cx="58.60" cy="883.91" rx="2.9" ry="5.4" fill="#f00" stroke="none"/><text transform="translate(60.60,888.41) scale(0.557,1)">ABal</text><ellipse cx="66.55" cy="891.65" rx="2.9" ry="5.4" fill="#f00" stroke="none"/><text transform="translate(68.55,896.15) scale(0.557,1)">ABar</text><ellipse cx="74.50" cy="899.39" rx="2.9" ry="5.4" fill="#f00" stroke="none"/><text transform="translate(76.50,903.89) scale(0.557,1)">ABel</text><ellipse cx="82.45" cy="907.13" rx="2.9" ry="5.4" fill="#f00" stroke="none"/><text transform="translate(84.45,911.63) scale(0.557,1)">ABer</text><ellipse cx="90.40" cy="914.87" rx="2.9" ry="5.4" fill="#00f" stroke="none"/><text transform="translate(92.40,919.37) scale(0.557,1)">D</text><ellipse cx="98.35" cy="922.62" rx="2.9" ry="5.4" fill="#f00" stroke="none"/><text transform="translate(100.35,927.12) scale(0.557,1)">E</text><ellipse cx="106.30" cy="930.36" rx="2.9" ry="5.4" fill="#f00" stroke="none"/><text transform="translate(108.30,934.86) scale(0.557,1)">MS</text><ellipse cx="114.25" cy="938.10" rx="2.9" ry="5.4" fill="#00f" stroke="none"/><text transform="translate(116.25,942.60) scale(0.557,1)">P3</text><ellipse cx="58.60" cy="914.87" rx="2.9" ry="5.4" fill="#f00" stroke="none"/><text transform="translate(60.60,919.37) scale(0.557,1)">ABa</text><ellipse cx="66.55" cy="922.62" rx="2.9" ry="5.4" fill="#f00" stroke="none"/><text transform="translate(68.55,927.12) scale(0.557,1)">ABe</text><ellipse cx="74.50" cy="930.36" rx="2.9" ry="5.4" fill="#f00" stroke="none"/><text transform="translate(76.50,934.86) scale(0.557,1)">EMS</text><ellipse cx="82.45" cy="938.10" rx="2.9" ry="5.4" fill="#00f" stroke="none"/><text transform="translate(84.45,942.60) scale(0.557,1)">P2</text><ellipse cx="58.60" cy="930.36" rx="2.9" ry="5.4" fill="#00f" stroke="none"/><text transform="translate(60.60,934.86) scale(0.557,1)">AB</text><ellipse cx="66.55" cy="938.10" rx="2.9" ry="5.4" fill="#00f" stroke="none"/><text transform="translate(68.55,942.60) scale(0.557,1)">P1</text></g><g font-family="Liberation Sans, sans-serif" font-weight="bold" font-size="18" fill="#000"><text x="54.5" y="100.0" text-anchor="end">109</text><text x="54.5" y="486.8" text-anchor="end">59</text><text x="54.5" y="717.3" text-anchor="end">29</text><text x="54.5" y="828.1" text-anchor="end">15</text><text x="54.5" y="889.2" text-anchor="end">7</text><text x="54.5" y="920.2" text-anchor="end">3</text><text x="82.5" y="964.5" text-anchor="middle">3</text><text x="113.5" y="964.5" text-anchor="start">7</text><text x="180.0" y="964.5" text-anchor="start">15</text><text x="297.5" y="964.5" text-anchor="start">29</text><text x="540.0" y="964.5" text-anchor="start">59</text><text x="925.0" y="964.5" text-anchor="start">109</text></g><text transform="translate(529.2,998.2) scale(1.03,1)" text-anchor="middle" font-family="Liberation Sans, sans-serif" font-weight="bold" font-size="18" word-spacing="1.6" fill="#000">Right Side of Tree</text><text transform="translate(22.7,477.4) rotate(-90) scale(1.03,1)" text-anchor="middle" font-family="Liberation Sans, sans-serif" font-weight="bold" font-size="18" word-spacing="1.6" fill="#000">Left Side of Tree</text><rect x="894.5" y="42" width="105.5" height="75" fill="#fff" stroke="#6e6e6e" stroke-width="1.5"/><ellipse cx="917.2" cy="56.7" rx="4.0" ry="5.5" fill="#00f"/><text transform="translate(942,62.900000000000006) scale(0.79,1)" font-family="Liberation Sans, sans-serif" font-size="17" fill="#222">H = 0</text><ellipse cx="917.2" cy="78.9" rx="4.0" ry="5.5" fill="#f00"/><text transform="translate(942,85.10000000000001) scale(0.79,1)" font-family="Liberation Sans, sans-serif" font-size="17" fill="#222">H = 1-3</text><ellipse cx="917.2" cy="102.3" rx="4.0" ry="5.5" fill="#0f0"/><text transform="translate(942,108.5) scale(0.79,1)" font-family="Liberation Sans, sans-serif" font-size="17" fill="#222">H = 4-6</text></svg></body></html>
